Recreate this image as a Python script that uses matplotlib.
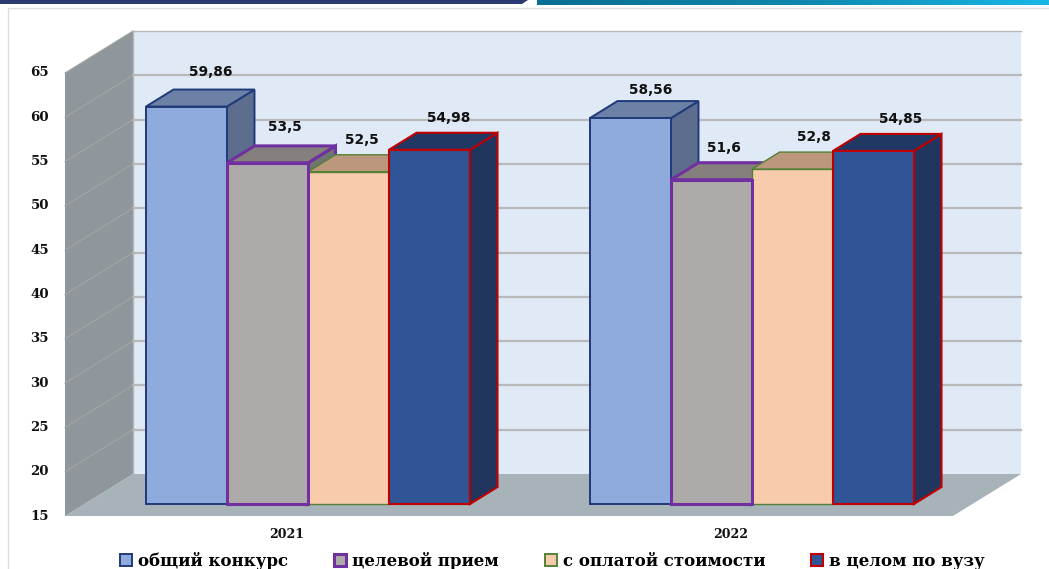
import numpy as np
from matplotlib import pyplot as plt
from matplotlib.patches import Patch, Polygon

years = ["2021", "2022"]
series_names = ["общий конкурс", "целевой прием", "с оплатой стоимости", "в целом по вузу"]
obshchiy = [59.86, 58.56]
tselevoy = [53.5, 51.6]
oplata = [52.5, 52.8]
v_tselom = [54.98, 54.85]
value_labels = [["59,86", "58,56"], ["53,5", "51,6"], ["52,5", "52,8"], ["54,98", "54,85"]]
y_ticks = [15, 20, 25, 30, 35, 40, 45, 50, 55, 60, 65]

series = [obshchiy, tselevoy, oplata, v_tselom]

# стили серий: лицо, верх, бок, рамка, толщина рамки
front_c = ["#8faadc", "#aeaaaa", "#f8cbad", "#2f5597"]
top_c = ["#6d80a6", "#85807d", "#bb977e", "#203864"]
side_c = ["#5c6d8e", "#6f7470", "#a98a72", "#20365f"]
edge_c = ["#1f3a78", "#7030a0", "#548235", "#c00000"]
edge_w = [1.4, 2.2, 1.0, 1.5]
front_z = [0.0, 0.25, 0.2, 0.3]  # рамка целевого приема лежит поверх соседней

W, H = 1049, 569
PX_X = 444.0   # пикселей на одну категорию
PX_Y = 8.86    # пикселей на единицу значения
X0, Y0 = 287, 516  # категория 0 и значение 15 на передней плоскости

fig = plt.figure(figsize=(W / 100, H / 100), dpi=100, facecolor="white")
ax = fig.add_axes([0, 0, 1, 1])
ax.set_xlim(-X0 / PX_X, (W - X0) / PX_X)
ax.set_ylim(15 - (H - Y0) / PX_Y, 15 + Y0 / PX_Y)
ax.axis("off")

# глубина стенки и столбца
wall_dx, wall_dy = 68 / PX_X, 42 / PX_Y
bar_dx, bar_dy = 27.5 / PX_X, 17 / PX_Y
base_dx, base_dy = 21 / PX_X, 12 / PX_Y
bar_w = 81 / PX_X
ymin, ymax = y_ticks[0], y_ticks[-1]
xl, xr = -0.5, 1.5


def poly(pts, fc, ec="none", lw=0.0, z=1):
    ax.add_patch(Polygon(pts, closed=True, facecolor=fc, edgecolor=ec, linewidth=lw,
                         joinstyle="miter", zorder=z))


# рамка и полосы сверху
ax.plot([8 / W, 8 / W, 1], [0, 1 - 8 / H, 1 - 8 / H], transform=ax.transAxes,
        color="#dedede", lw=1, zorder=0)
ax.add_patch(Polygon([[0, 1], [528 / W, 1], [522 / W, 1 - 4 / H], [0, 1 - 4 / H]],
                     transform=ax.transAxes, facecolor="#2b3a70", edgecolor="none", zorder=3))
band = fig.add_axes([537 / W, 1 - 5 / H, (W - 537) / W, 5 / H])
grad = np.linspace(0, 1, 256).reshape(1, -1)
band.imshow(grad, aspect="auto", cmap=plt.matplotlib.colors.LinearSegmentedColormap.from_list(
    "band", ["#0b6f92", "#0f86ab", "#17b7e6"]))
band.axis("off")

# задняя стена, пол, левая стена
poly([[xl + wall_dx, ymin + wall_dy], [xr + wall_dx, ymin + wall_dy],
      [xr + wall_dx, ymax + wall_dy], [xl + wall_dx, ymax + wall_dy]], "#dfeaf6")
poly([[xl, ymin], [xr, ymin], [xr + wall_dx, ymin + wall_dy], [xl + wall_dx, ymin + wall_dy]], "#a8b2b9")
poly([[xl, ymin], [xl + wall_dx, ymin + wall_dy], [xl + wall_dx, ymax + wall_dy], [xl, ymax]], "#8f979c")

for v in y_ticks[1:]:
    lw = 1.0 if v == ymax else 1.6
    ax.plot([xl + wall_dx, xr + wall_dx], [v + wall_dy, v + wall_dy], color="#b9b9bc", lw=lw, zorder=1.5)
    ax.plot([xl, xl + wall_dx], [v, v + wall_dy], color="#a5a5a2", lw=0.8, zorder=1.5)
ax.plot([xl + wall_dx, xl + wall_dx], [ymin + wall_dy, ymax + wall_dy], color="#b4b6b8", lw=1, zorder=1.5)

# столбцы
n = len(series)
for g in range(len(years)):
    for s in range(n):
        left = g - 2 * bar_w + s * bar_w + base_dx
        right = left + bar_w
        low = ymin + base_dy
        high = series[s][g] + base_dy
        z = 2 + g + s * 0.1
        kw = dict(ec=edge_c[s], lw=edge_w[s])
        poly([[right, low], [right + bar_dx, low + bar_dy], [right + bar_dx, high + bar_dy], [right, high]],
             side_c[s], z=z, **kw)
        poly([[left, high], [right, high], [right + bar_dx, high + bar_dy], [left + bar_dx, high + bar_dy]],
             top_c[s], z=z, **kw)
        poly([[left, low], [right, low], [right, high], [left, high]], front_c[s],
             z=2 + g + front_z[s] + 0.01, **kw)

# подписи значений (сдвиг от левого верхнего угла столбца, пиксели)
label_dx = [[65, 61], [58, 53], [54, 62], [60, 68]]
label_dy = [[35, 28.5], [35.5, 32], [32, 32], [31.5, 31.5]]
for g in range(len(years)):
    for s in range(n):
        left = g - 2 * bar_w + s * bar_w + base_dx
        ax.text(left + label_dx[s][g] / PX_X, series[s][g] + base_dy + label_dy[s][g] / PX_Y,
                value_labels[s][g], ha="center", va="center", fontsize=9.9,
                fontweight="bold", color="#111111", family="DejaVu Sans", zorder=10)

# оси
for v in y_ticks:
    ax.text(xl - 16 / PX_X, v, str(v), ha="right", va="center", fontsize=9.6,
            fontweight="bold", family="DejaVu Serif", color="#111111", zorder=10)
for g, year in enumerate(years):
    ax.text(g, ymin - 18 / PX_Y, year, ha="center", va="center", fontsize=9,
            fontweight="bold", family="DejaVu Serif", color="#111111", zorder=10)

# легенда
handles = [Patch(facecolor=front_c[s], edgecolor=edge_c[s], linewidth=max(edge_w[s], 1.4)) for s in range(n)]
ax.legend(handles, series_names, ncol=4, loc="center left",
          bbox_to_anchor=(120 / W, 1 - 561 / H), frameon=False, handlelength=0.72, handleheight=0.72,
          handletextpad=0.36, columnspacing=2.75, borderpad=0, borderaxespad=0,
          prop={"family": "DejaVu Serif", "weight": "bold", "size": 12})

fig.savefig("out.png", dpi=100)
